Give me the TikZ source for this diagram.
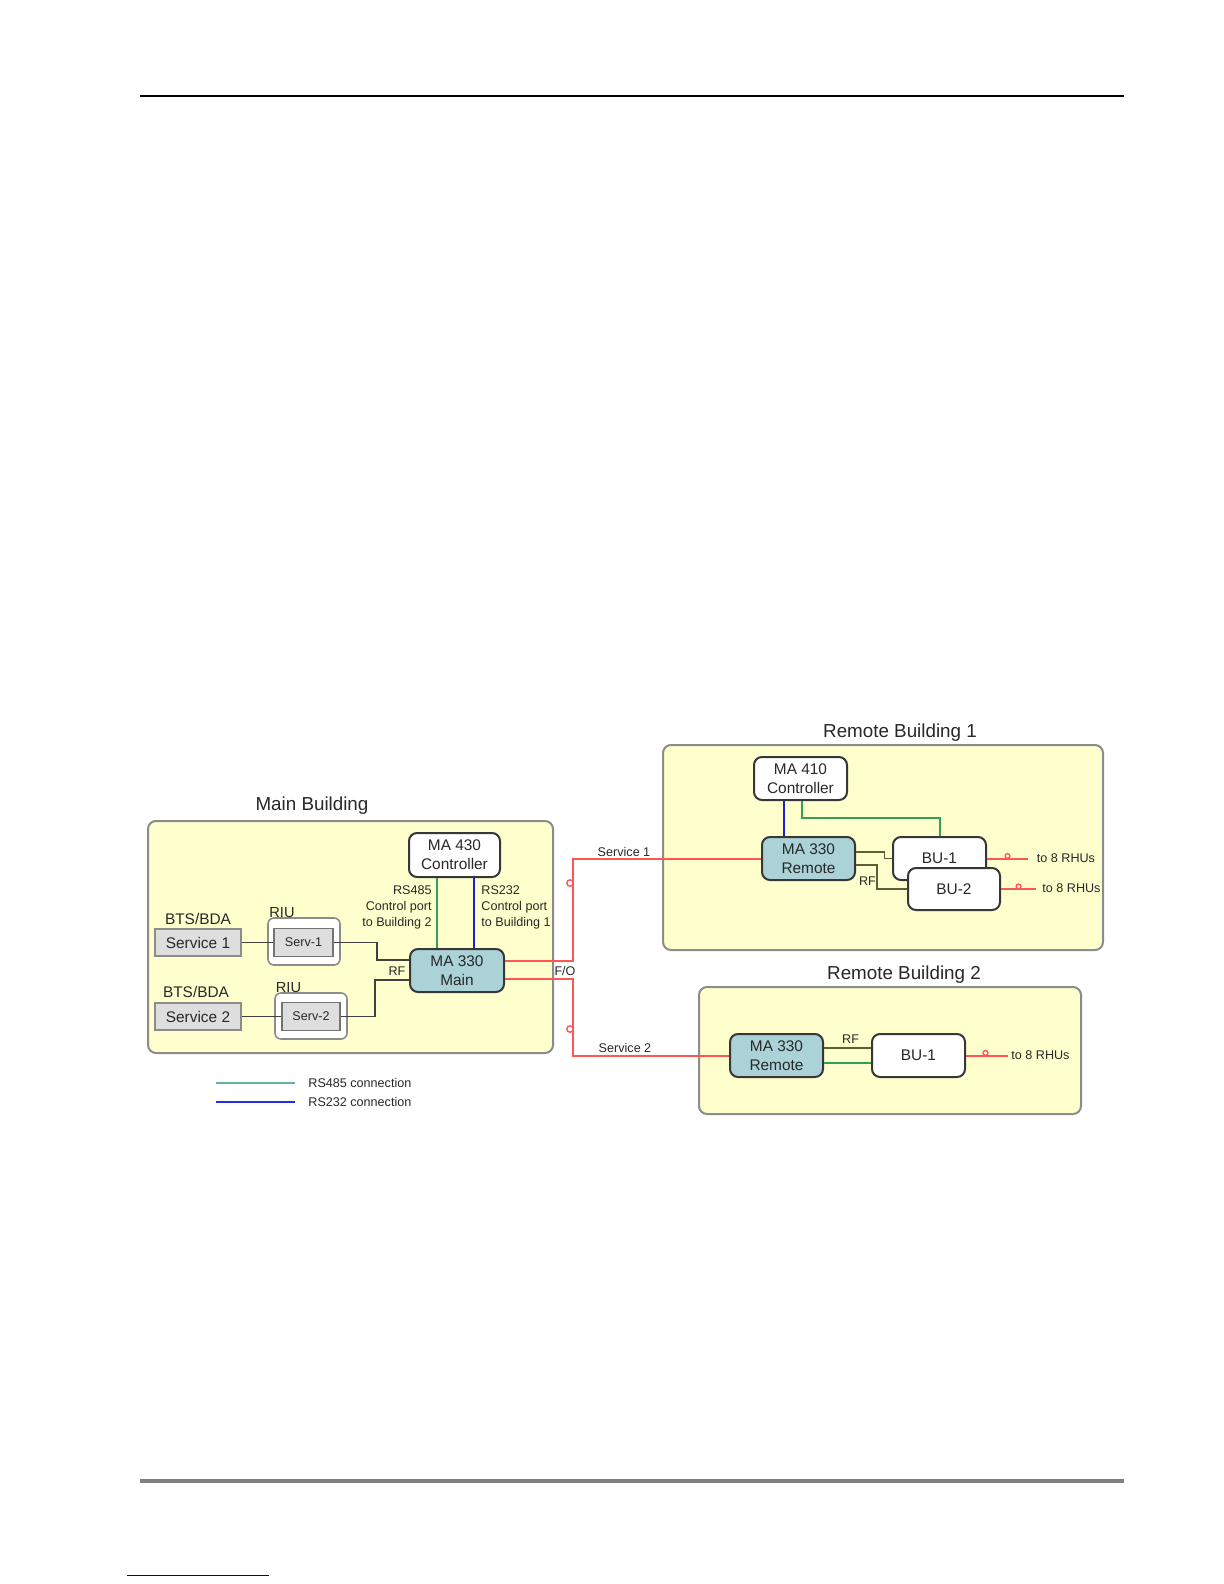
\documentclass[tikz,border=0pt]{standalone}
\usepackage{fontspec}
\setmainfont{Liberation Sans}
\definecolor{bfill}{RGB}{255,255,205}
\definecolor{bline}{RGB}{140,140,140}
\definecolor{dline}{RGB}{55,55,55}
\definecolor{tealfill}{RGB}{170,210,215}
\definecolor{sfill}{RGB}{222,222,222}
\definecolor{redl}{RGB}{255,85,85}
\definecolor{greenl}{RGB}{50,160,90}
\definecolor{bluel}{RGB}{30,30,210}
\definecolor{olivel}{RGB}{95,95,55}
\definecolor{legg}{RGB}{100,180,150}
\definecolor{legb}{RGB}{40,40,230}
\definecolor{txt}{RGB}{40,40,40}
\definecolor{navyl}{RGB}{0,0,150}
\begin{document}
\begin{tikzpicture}[x=0.5pt,y=-0.5pt,
  bldg/.style={draw=bline, fill=bfill, line width=1pt, rounded corners=4pt, inner sep=0},
  unit/.style={draw=dline, fill=white, line width=1pt, rounded corners=4pt, inner sep=0, align=center, font=\fontsize{7.7}{9.5}\selectfont, text=txt, minimum width=46.5pt, minimum height=21.5pt},
  mainunit/.style={unit, fill=tealfill},
  svc/.style={draw=bline, fill=sfill, line width=0.8pt, inner sep=0, font=\fontsize{7.7}{9}\selectfont, text=txt, minimum width=43pt, minimum height=13.5pt},
  riuo/.style={draw=bline, fill=white, line width=0.8pt, rounded corners=3pt, inner sep=0, minimum width=36pt, minimum height=23.5pt},
  riui/.style={draw=black!55, fill=sfill, line width=0.8pt, inner sep=0, font=\fontsize{6.3}{7}\selectfont, text=txt, minimum width=29.5pt, minimum height=14pt},
  title/.style={font=\fontsize{9.4}{11}\selectfont, text=txt, inner sep=0},
  lbl/.style={font=\fontsize{7.7}{9}\selectfont, text=txt, inner sep=0},
  small/.style={font=\fontsize{6.3}{8}\selectfont, text=txt, inner sep=0},
  conn/.style={draw=black!75, line width=0.8pt},
  fo/.style={draw=redl, line width=1pt},
  rf/.style={draw=olivel, line width=0.9pt},
  rsa/.style={draw=greenl, line width=1pt},
  rsb/.style={draw=bluel, line width=1pt},
  ring/.style={draw=redl, line width=0.7pt, fill=white}
]
\useasboundingbox (0,0) rectangle (1224,1584);
\fill[white] (0,0) rectangle (1224,1584);

% page rules
\draw[black, line width=1pt] (140,96) -- (1124,96);
\draw[black!50, line width=1.6pt] (140,1481) -- (1124,1481);
\draw[navyl, line width=0.5pt] (127,1575) -- (269,1575);

% ---------------- Main building ----------------
\node[bldg, minimum width=202.5pt, minimum height=116pt] (mb) at (350.5,937) {};
\node[title, anchor=base] (mbt) at (312,810) {Main Building};
\node[unit, minimum width=45.5pt, minimum height=22pt] (c430) at (454.5,855) {MA 430\\Controller};
\node[mainunit, minimum width=47pt] (m330) at (457,970.5) {MA 330\\Main};
\node[svc] (s1) at (198,942.5) {Service 1};
\node[svc] (s2) at (198,1016.5) {Service 2};
\node[lbl, anchor=base] (bts1) at (198,924) {BTS/BDA};
\node[lbl, anchor=base] (bts2) at (196,997) {BTS/BDA};
\node[riuo] (riu1) at (304,941.5) {};
\node[riui] (sv1) at (303.5,942.5) {Serv-1};
\node[lbl, anchor=base, font=\fontsize{7.3}{9}\selectfont] (riu1l) at (282,917) {RIU};
\node[riuo, minimum height=23pt] (riu2) at (311,1016) {};
\node[riui, minimum width=29pt] (sv2) at (311,1016.5) {Serv-2};
\node[lbl, anchor=base, font=\fontsize{7.3}{9}\selectfont] (riu2l) at (288.5,992) {RIU};

\coordinate (k1) at (377,960);
\coordinate (k2) at (375,980);
\draw[conn] (s1.east) -- (sv1.west);
\draw[conn] (s2.east) -- (sv2.west);
\draw[conn] (sv1.east) -| (k1) -- (k1 -| m330.west);
\draw[conn] (sv2.east) -| (k2) -- (k2 -| m330.west);
\node[small, anchor=base] (rfm) at (397,975) {RF};

\coordinate (ga) at (437,900);
\coordinate (gb) at (474.3,900);
\draw[rsa] (ga |- c430.south) -- (ga |- m330.north);
\draw[rsb] (gb |- c430.south) -- (gb |- m330.north);
\node[small, align=right, anchor=east] (l485) at (432,907) {RS485\\Control port\\to Building 2};
\node[small, align=left, anchor=west] (l232) at (481,907) {RS232\\Control port\\to Building 1};

% ---------------- Remote building 1 ----------------
\node[bldg, minimum width=220pt, minimum height=102.5pt] (rb1) at (883,847.5) {};
\node[title, anchor=base] (rb1t) at (900,737) {Remote Building 1};
\node[unit] (c410) at (800.5,778.5) {MA 410\\Controller};
\node[mainunit] (r1m) at (808.5,858.5) {MA 330\\Remote};
\node[unit] (bu1) at (939.5,858.5) {BU-1};

\coordinate (g2) at (802,818);
\coordinate (g3) at (940,818);
\coordinate (b2) at (784,818);
\draw[rsb] (b2 |- c410.south) -- (b2 |- r1m.north);
\draw[rsa] (g2 |- c410.south) -- (g2) -- (g3) -- (g3 |- bu1.north);

\coordinate (q1) at (884.5,852);
\coordinate (q2) at (877,865);
\draw[rf] (r1m.east |- q1) -- (q1) |- (bu1.west);
\node[unit, minimum width=46pt, minimum height=21pt] (bu2) at (954,889) {BU-2};
\draw[rf] (r1m.east |- q2) -- (q2) |- (bu2.west);
\node[small, anchor=base] (rf1) at (867.5,885) {RF};

\coordinate (e1) at (1028,858.5);
\coordinate (e2) at (1036,889);
\draw[fo] (bu1.east) -- (e1);
\draw[fo] (bu2.east) -- (e2);
\draw[ring] (1007.5,856) circle[radius=1.2pt];
\draw[ring] (1018.5,886.5) circle[radius=1.2pt];
\node[small, anchor=base west] (rh1) at (1036.5,862) {to 8 RHUs};
\node[small, anchor=base west] (rh2) at (1042,892.5) {to 8 RHUs};

% ---------------- Remote building 2 ----------------
\node[bldg, minimum width=191pt, minimum height=63.5pt] (rb2) at (890,1050.5) {};
\node[title, anchor=base] (rb2t) at (904,979) {Remote Building 2};
\node[mainunit] (r2m) at (776.5,1055.5) {MA 330\\Remote};
\node[unit] (bu3) at (918.5,1055.5) {BU-1};
\coordinate (h1) at (850,1048);
\coordinate (h2) at (850,1063);
\draw[rf] (h1 -| r2m.east) -- (h1 -| bu3.west);
\draw[rsa] (h2 -| r2m.east) -- (h2 -| bu3.west);
\node[small, anchor=base] (rf2) at (850.6,1043) {RF};
\coordinate (e3) at (1008,1055.5);
\draw[fo] (bu3.east) -- (e3);
\draw[ring] (985.5,1053) circle[radius=1.2pt];
\node[small, anchor=base west] (rh3) at (1011,1059) {to 8 RHUs};

% ---------------- F/O links ----------------
\coordinate (f1) at (573,961);
\coordinate (f2) at (573,979);
\draw[fo] (m330.east |- f1) -- (f1) |- (r1m.west);
\draw[fo] (m330.east |- f2) -- (f2) |- (r2m.west);
\draw[ring] (570,883) circle[radius=1.6pt];
\draw[ring] (570,1029) circle[radius=1.6pt];
\node[small, anchor=base] (fol) at (565,975) {F/O};
\node[small, anchor=base] (sv1l) at (624,856) {Service 1};
\node[small, anchor=base] (sv2l) at (625,1052.5) {Service 2};

% ---------------- legend ----------------
\coordinate (la1) at (216,1083);
\coordinate (la2) at (295,1083);
\coordinate (lb1) at (216,1102);
\coordinate (lb2) at (295,1102);
\draw[legg, line width=1pt] (la1) -- (la2);
\draw[legb, line width=1pt] (lb1) -- (lb2);
\node[small, anchor=base west] (lga) at (308,1087) {RS485 connection};
\node[small, anchor=base west] (lgb) at (308,1106) {RS232 connection};
\end{tikzpicture}
\end{document}
